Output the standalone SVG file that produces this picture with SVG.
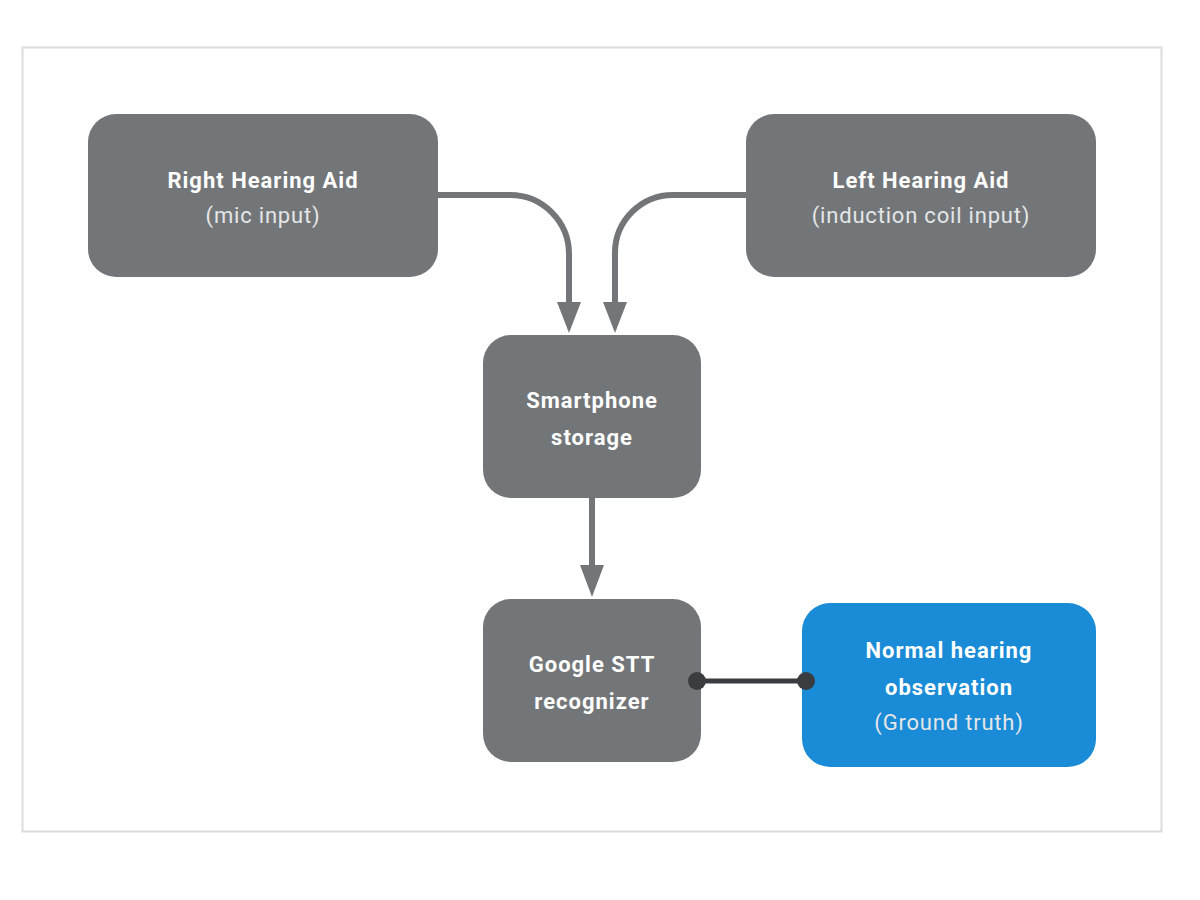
<svg xmlns="http://www.w3.org/2000/svg" width="1200" height="900" viewBox="0 0 1200 900">
<defs>
<style>
.box{fill:#737679;}
.blue{fill:#1a8bd6;}
.t{font-family:"Roboto","Liberation Sans",sans-serif;font-size:22px;font-weight:bold;fill:#ffffff;text-anchor:middle;letter-spacing:1px;}
.s{font-family:"Roboto","Liberation Sans",sans-serif;font-size:22px;fill:#e4e6e8;text-anchor:middle;letter-spacing:0.8px;}
.c{fill:none;stroke:#737679;stroke-width:6;}
</style>
</defs>
<rect width="1200" height="900" fill="#ffffff"/>
<rect x="22.5" y="47.5" width="1139" height="784" fill="#ffffff" stroke="#dcdcdc" stroke-width="2"/>
<g id="right-hearing-aid">
<rect class="box" x="88" y="114" width="350" height="163" rx="28"/>
<text class="t" x="263" y="188">Right Hearing Aid</text>
<text class="s" x="263" y="223">(mic input)</text>
</g>
<g id="left-hearing-aid">
<rect class="box" x="746" y="114" width="350" height="163" rx="28"/>
<text class="t" x="921" y="188">Left Hearing Aid</text>
<text class="s" x="921" y="223">(induction coil input)</text>
</g>
<g id="smartphone-storage">
<rect class="box" x="483" y="335" width="218" height="163" rx="28"/>
<text class="t" x="592" y="408">Smartphone</text>
<text class="t" x="592" y="445">storage</text>
</g>
<g id="google-stt">
<rect class="box" x="483" y="599" width="218" height="163" rx="28"/>
<text class="t" x="592" y="672">Google STT</text>
<text class="t" x="592" y="709">recognizer</text>
</g>
<g id="normal-hearing">
<rect class="blue" x="802" y="603" width="294" height="164" rx="28"/>
<text class="t" x="949" y="658">Normal hearing</text>
<text class="t" x="949" y="695">observation</text>
<text class="s" x="949" y="730">(Ground truth)</text>
</g>
<g id="connectors">
<path class="c" d="M438,195 H510 A59,59 0 0 1 569,254 V302"/>
<path d="M557,302 L581,302 L569,333 Z" fill="#737679"/>
<path class="c" d="M746,195 H673 A58,58 0 0 0 615,253 V302"/>
<path d="M603,302 L627,302 L615,333 Z" fill="#737679"/>
<path class="c" d="M592,498 V566"/>
<path d="M580,565 L604,565 L592,597 Z" fill="#737679"/>
<line x1="697" y1="681" x2="806" y2="681" stroke="#3a3d40" stroke-width="5"/>
<circle cx="697" cy="681" r="9" fill="#3a3d40"/>
<circle cx="806" cy="681" r="9" fill="#3a3d40"/>
</g>
</svg>
